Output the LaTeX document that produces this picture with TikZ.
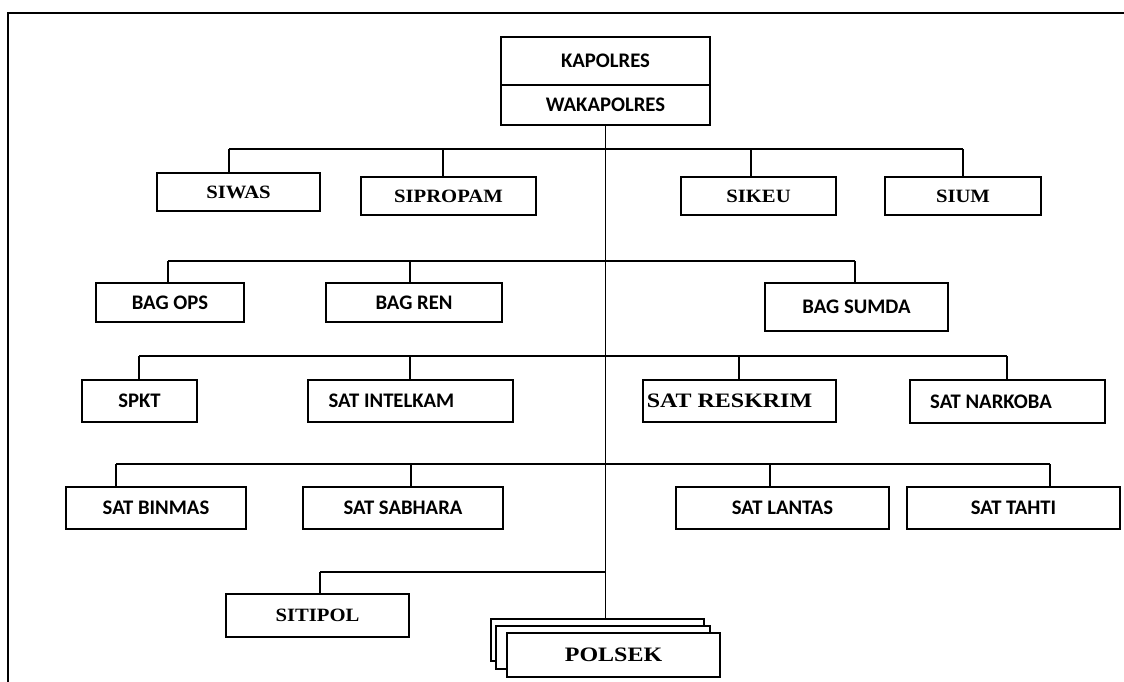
\documentclass[tikz,border=0pt]{standalone}
\usepackage{fontspec}
\newfontfamily\calfont{Carlito}
\newfontfamily\tmsfont{Liberation Serif}[FakeStretch=1.1]
\newfontfamily\tmswide{Liberation Serif}[FakeStretch=1.17]

\tikzset{%
    unit/.style = {draw, fill = white, line width = 1.9pt, inner sep = 0pt,
        font = \calfont\bfseries\fontsize{20.7}{22}\selectfont},
    seksi/.style = {unit, font = \tmsfont\bfseries\fontsize{18.8}{22}\selectfont},
    seksiwide/.style = {unit, font = \tmswide\bfseries\fontsize{20.5}{22}\selectfont},
    link/.style = {line width = 1.8pt}
}

\begin{document}
\begin{tikzpicture}[%
        x = 1pt,
        y = -1pt
    ]
        \useasboundingbox (0, 0) rectangle (1124, 682);

        % Page frame, top and left only.
        \draw[line width = 1.8pt] (1124, 13) to (8, 13) to (8, 682);

        % Head of the unit.
        \node[unit, minimum width = 209, minimum height = 48] (kapolres) at (605.5, 61) {KAPOLRES};
        \node[unit, minimum width = 209, minimum height = 40] (wakapolres) at (605.5, 105) {WAKAPOLRES};

        % Row 1: the SI boxes.
        \node[seksi, minimum width = 163, minimum height = 38] (siwas) at (238.5, 192) {SIWAS};
        \node[seksi, minimum width = 175, minimum height = 38] (sipropam) at (448.5, 196) {SIPROPAM};
        \node[seksi, minimum width = 155, minimum height = 38] (sikeu) at (758.5, 196) {SIKEU};
        \node[seksi, minimum width = 156, minimum height = 38] (sium) at (963, 196) {SIUM};

        % Row 2: the BAG boxes.
        \node[unit, minimum width = 148, minimum height = 39] (bagops) at (170, 302.5) {BAG OPS};
        \node[unit, minimum width = 176, minimum height = 39] (bagren) at (414, 302.5) {BAG REN};
        \node[unit, minimum width = 183, minimum height = 48] (bagsumda) at (856.5, 307) {BAG SUMDA};

        % Row 3.
        \node[unit, minimum width = 115, minimum height = 42] (spkt) at (139.5, 401) {SPKT};
        \node[unit, minimum width = 205, minimum height = 42] (intelkam) at (410.5, 401) {SAT INTELKAM\hspace*{38pt}};
        \node[seksiwide, minimum width = 193, minimum height = 42] (reskrim) at (739.5, 401) {SAT RESKRIM\hspace*{20pt}};
        \node[unit, minimum width = 195, minimum height = 43] (narkoba) at (1007.5, 401.5) {SAT NARKOBA\hspace*{33pt}};

        % Row 4.
        \node[unit, minimum width = 180, minimum height = 42] (binmas) at (156, 508) {SAT BINMAS};
        \node[unit, minimum width = 200, minimum height = 42] (sabhara) at (403, 508) {SAT SABHARA};
        \node[unit, minimum width = 213, minimum height = 42] (lantas) at (782.5, 508) {SAT LANTAS};
        \node[unit, minimum width = 213, minimum height = 42] (tahti) at (1013.5, 508) {SAT TAHTI};

        % Bottom: SITIPOL and the stack of POLSEK boxes.
        \node[seksi, minimum width = 183, minimum height = 43] (sitipol) at (317.5, 615.5) {SITIPOL};
        \node[unit, minimum width = 213, minimum height = 42] (polsekc) at (597.5, 640) {};
        \node[unit, minimum width = 214, minimum height = 43] (polsekb) at (603, 647.5) {};
        \node[seksiwide, minimum width = 213, minimum height = 44] (polseka) at (613.5, 655) {POLSEK};

        % Main vertical line.
        \draw[link] (wakapolres.south) to (wakapolres.south |- polsekc.north);

        % Bus lines and the drops to each box.
        \foreach \nm/\dx/\by in {siwas/229/149, sipropam/443/149, sikeu/751/149, sium/963/149,
                bagops/168/261, bagren/410/261, bagsumda/855/261,
                spkt/139/356, intelkam/410/356, reskrim/739/356, narkoba/1007/356,
                binmas/116/464, sabhara/411/464, lantas/770/464, tahti/1050/464,
                sitipol/320/572}{%
            \coordinate (\nm-top) at (\dx, \by);
            \draw[link] (\nm-top) to (\nm-top |- \nm.north);
        }
        \draw[link] (siwas-top) to (sium-top);
        \draw[link] (bagops-top) to (bagsumda-top);
        \draw[link] (spkt-top) to (narkoba-top);
        \draw[link] (binmas-top) to (tahti-top);
        \draw[link] (sitipol-top) to (sitipol-top -| wakapolres.south);
    \end{tikzpicture}
\end{document}
